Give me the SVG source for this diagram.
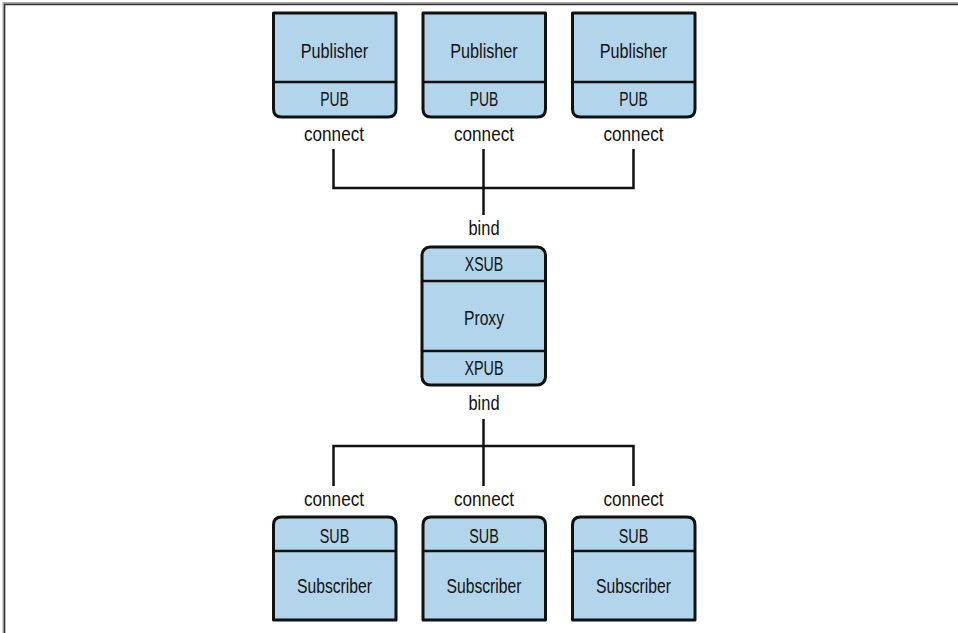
<svg xmlns="http://www.w3.org/2000/svg" width="958" height="633" viewBox="0 0 958 633">
<style>
.box{fill:#b3d5eb;stroke:#111;stroke-width:3;stroke-linejoin:round}
.div{stroke:#111;stroke-width:2.5;fill:none}
.t{font-family:"Liberation Sans",Arial,sans-serif;font-size:21px;fill:#111;text-anchor:middle}
.c{stroke:#111;stroke-width:2.5;fill:none}
</style>
<rect width="958" height="633" fill="#fff"/>
<g id="frame">
<path d="M4 633 V3.5 H958" fill="none" stroke="#aaa" stroke-width="3"/>
<path d="M4.5 633 V4.5 H958" fill="none" stroke="#333" stroke-width="1.3"/>
</g>
<g id="pub1">
<path class="box" d="M273.5 13 H396 V109 Q396 117 388 117 H281.5 Q273.5 117 273.5 109 Z"/>
<line class="div" x1="273.5" y1="82" x2="396" y2="82"/>
<text class="t" x="334.5" y="58" textLength="67.5" lengthAdjust="spacingAndGlyphs">Publisher</text>
<text class="t" x="334.5" y="106" textLength="28.5" lengthAdjust="spacingAndGlyphs">PUB</text>
</g>
<g id="pub2">
<path class="box" d="M423 13 H545.5 V109 Q545.5 117 537.5 117 H431 Q423 117 423 109 Z"/>
<line class="div" x1="423" y1="82" x2="545.5" y2="82"/>
<text class="t" x="484" y="58" textLength="67.5" lengthAdjust="spacingAndGlyphs">Publisher</text>
<text class="t" x="484" y="106" textLength="28.5" lengthAdjust="spacingAndGlyphs">PUB</text>
</g>
<g id="pub3">
<path class="box" d="M572.5 13 H695 V109 Q695 117 687 117 H580.5 Q572.5 117 572.5 109 Z"/>
<line class="div" x1="572.5" y1="82" x2="695" y2="82"/>
<text class="t" x="633.5" y="58" textLength="67.5" lengthAdjust="spacingAndGlyphs">Publisher</text>
<text class="t" x="633.5" y="106" textLength="28.5" lengthAdjust="spacingAndGlyphs">PUB</text>
</g>
<g id="proxy">
<rect class="box" x="422" y="247" width="123.5" height="138" rx="8"/>
<line class="div" x1="422" y1="281" x2="545.5" y2="281"/>
<line class="div" x1="422" y1="351" x2="545.5" y2="351"/>
<text class="t" x="484" y="271" textLength="38.5" lengthAdjust="spacingAndGlyphs">XSUB</text>
<text class="t" x="484" y="325" textLength="40" lengthAdjust="spacingAndGlyphs">Proxy</text>
<text class="t" x="484" y="375" textLength="39" lengthAdjust="spacingAndGlyphs">XPUB</text>
</g>
<g id="sub1">
<path class="box" d="M273.5 620 V525 Q273.5 517 281.5 517 H388 Q396 517 396 525 V620 Z"/>
<line class="div" x1="273.5" y1="551" x2="396" y2="551"/>
<text class="t" x="334.5" y="543" textLength="29.5" lengthAdjust="spacingAndGlyphs">SUB</text>
<text class="t" x="334.5" y="593" textLength="75" lengthAdjust="spacingAndGlyphs">Subscriber</text>
</g>
<g id="sub2">
<path class="box" d="M423 620 V525 Q423 517 431 517 H537.5 Q545.5 517 545.5 525 V620 Z"/>
<line class="div" x1="423" y1="551" x2="545.5" y2="551"/>
<text class="t" x="484" y="543" textLength="29.5" lengthAdjust="spacingAndGlyphs">SUB</text>
<text class="t" x="484" y="593" textLength="75" lengthAdjust="spacingAndGlyphs">Subscriber</text>
</g>
<g id="sub3">
<path class="box" d="M572.5 620 V525 Q572.5 517 580.5 517 H687 Q695 517 695 525 V620 Z"/>
<line class="div" x1="572.5" y1="551" x2="695" y2="551"/>
<text class="t" x="633.5" y="543" textLength="29.5" lengthAdjust="spacingAndGlyphs">SUB</text>
<text class="t" x="633.5" y="593" textLength="75" lengthAdjust="spacingAndGlyphs">Subscriber</text>
</g>
<g id="connectors">
<path class="c" d="M333.5 149 V188 H633.5 V149"/>
<path class="c" d="M483.5 149 V215"/>
<path class="c" d="M483.5 419 V486"/>
<path class="c" d="M333.5 486 V446 H633.5 V486"/>
<text class="t" x="334" y="141" textLength="60" lengthAdjust="spacingAndGlyphs">connect</text>
<text class="t" x="484" y="141" textLength="60" lengthAdjust="spacingAndGlyphs">connect</text>
<text class="t" x="633.5" y="141" textLength="60" lengthAdjust="spacingAndGlyphs">connect</text>
<text class="t" x="484" y="235" textLength="31" lengthAdjust="spacingAndGlyphs">bind</text>
<text class="t" x="484" y="410" textLength="31" lengthAdjust="spacingAndGlyphs">bind</text>
<text class="t" x="334" y="506" textLength="60" lengthAdjust="spacingAndGlyphs">connect</text>
<text class="t" x="484" y="506" textLength="60" lengthAdjust="spacingAndGlyphs">connect</text>
<text class="t" x="633.5" y="506" textLength="60" lengthAdjust="spacingAndGlyphs">connect</text>
</g>
</svg>
